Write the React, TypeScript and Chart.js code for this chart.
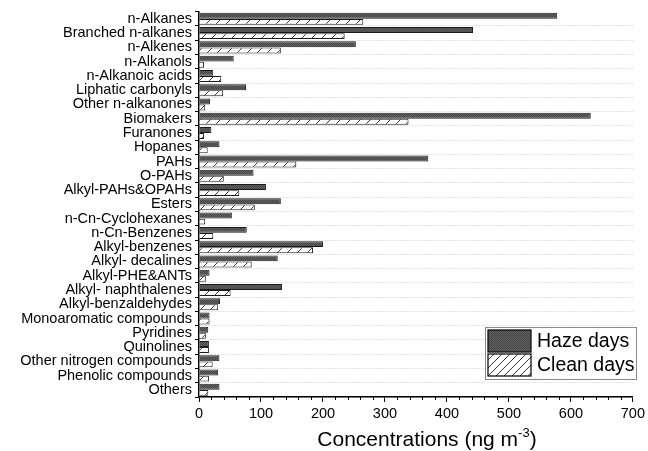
import React, { useEffect, useRef } from 'react';
import { Chart, registerables } from 'chart.js';

Chart.register(...registerables);

const categories = [
  'n-Alkanes', 'Branched n-alkanes', 'n-Alkenes', 'n-Alkanols', 'n-Alkanoic acids',
  'Liphatic carbonyls', 'Other n-alkanones', 'Biomakers', 'Furanones', 'Hopanes',
  'PAHs', 'O-PAHs', 'Alkyl-PAHs&OPAHs', 'Esters', 'n-Cn-Cyclohexanes',
  'n-Cn-Benzenes', 'Alkyl-benzenes', 'Alkyl- decalines', 'Alkyl-PHE&ANTs',
  'Alkyl- naphthalenes', 'Alkyl-benzaldehydes', 'Monoaromatic compounds',
  'Pyridines', 'Quinolines', 'Other nitrogen compounds', 'Phenolic compounds', 'Others',
];

const hazeDays = [
  578, 442, 253, 56, 23, 76, 18, 632, 20, 33, 370, 88, 108, 132, 53, 77, 200, 127,
  17, 134, 34, 17, 15, 16, 33, 31, 33,
];

const cleanDays = [
  265, 235, 132, 8, 36, 39, 10, 338, 8, 14, 157, 40, 65, 90, 10, 23, 184, 85,
  11, 51, 31, 17, 11, 16, 22, 16, 15,
];

const seriesNames = ['Haze days', 'Clean days'];
const xMin = 0;
const xMax = 700;
const xMajorStep = 100;
const xMinorStep = 20;
const xTitleMain = 'Concentrations (ng m';
const xTitleSup = '-3';
const xTitleEnd = ')';

const FONT = "'Liberation Sans', Arial, Helvetica, sans-serif";

function makeHazePattern(ctx: CanvasRenderingContext2D) {
  const c = document.createElement('canvas');
  c.width = 2;
  c.height = 2;
  const g = c.getContext('2d')!;
  g.fillStyle = '#606060';
  g.fillRect(0, 0, 2, 2);
  g.fillStyle = '#474747';
  g.fillRect(0, 0, 1, 1);
  g.fillRect(1, 1, 1, 1);
  return ctx.createPattern(c, 'repeat')!;
}

function makeHatchPattern(ctx: CanvasRenderingContext2D, s: number) {
  const c = document.createElement('canvas');
  c.width = s;
  c.height = s;
  const g = c.getContext('2d')!;
  g.fillStyle = '#ffffff';
  g.fillRect(0, 0, s, s);
  g.strokeStyle = '#222';
  g.lineWidth = 0.9;
  g.beginPath();
  g.moveTo(0, s);
  g.lineTo(s, 0);
  g.moveTo(-1, 1);
  g.lineTo(1, -1);
  g.moveTo(s - 1, s + 1);
  g.lineTo(s + 1, s - 1);
  g.stroke();
  return ctx.createPattern(c, 'repeat')!;
}

export default function App() {
  const ref = useRef<HTMLCanvasElement | null>(null);

  useEffect(() => {
    const canvas = ref.current!;
    const ctx0 = canvas.getContext('2d')!;
    const haze = makeHazePattern(ctx0);
    const hatch = makeHatchPattern(ctx0, 10);
    const hatchLegend = makeHatchPattern(ctx0, 8);

    const extras = {
      id: 'extras',
      afterDraw(chart: any) {
        const ctx = chart.ctx as CanvasRenderingContext2D;
        const xs = chart.scales.x;
        const area = chart.chartArea;
        ctx.save();
        // minor ticks
        ctx.strokeStyle = '#000';
        ctx.lineWidth = 1;
        ctx.beginPath();
        for (let v = xMin + xMinorStep; v < xMax; v += xMinorStep) {
          if (v % xMajorStep === 0) continue;
          const px = Math.round(xs.getPixelForValue(v)) + 0.5;
          ctx.moveTo(px, area.bottom);
          ctx.lineTo(px, area.bottom + 3);
        }
        ctx.stroke();

        // x title with superscript
        const mainFont = `21px ${FONT}`;
        const supFont = `13px ${FONT}`;
        ctx.fillStyle = '#000';
        ctx.textBaseline = 'alphabetic';
        ctx.font = mainFont;
        const w1 = ctx.measureText(xTitleMain).width;
        const w3 = ctx.measureText(xTitleEnd).width;
        ctx.font = supFont;
        const w2 = ctx.measureText(xTitleSup).width;
        const total = w1 + w2 + w3;
        const cx = 427;
        let x = cx - total / 2;
        const baseY = 446;
        ctx.font = mainFont;
        ctx.textAlign = 'left';
        ctx.fillText(xTitleMain, x, baseY);
        x += w1;
        ctx.font = supFont;
        ctx.fillText(xTitleSup, x, baseY - 9);
        x += w2;
        ctx.font = mainFont;
        ctx.fillText(xTitleEnd, x, baseY);

        // legend
        const lx = 485.5, ly = 327.5, lw = 151, lh = 52;
        ctx.fillStyle = '#fff';
        ctx.fillRect(lx, ly, lw, lh);
        ctx.strokeStyle = '#8a8a8a';
        ctx.lineWidth = 1;
        ctx.strokeRect(lx, ly, lw, lh);
        const fills = [haze, hatchLegend];
        for (let i = 0; i < 2; i++) {
          const sy = 330 + i * 24;
          ctx.fillStyle = fills[i];
          ctx.fillRect(488, sy, 43, 22);
          ctx.strokeStyle = '#111';
          ctx.lineWidth = 1.3;
          ctx.strokeRect(488, sy, 43, 22);
          ctx.fillStyle = '#000';
          ctx.font = `19.5px ${FONT}`;
          ctx.textBaseline = 'middle';
          ctx.fillText(seriesNames[i], 537, sy + 12);
        }
        ctx.restore();
      },
    };

    const chart = new Chart(canvas, {
      type: 'bar',
      data: {
        labels: categories,
        datasets: [
          {
            label: seriesNames[0],
            data: hazeDays,
            backgroundColor: haze,
            borderColor: '#1a1a1a',
            borderWidth: 1,
            categoryPercentage: 0.85,
            barPercentage: 0.98,
          },
          {
            label: seriesNames[1],
            data: cleanDays,
            backgroundColor: hatch,
            borderColor: '#1a1a1a',
            borderWidth: 1,
            categoryPercentage: 0.85,
            barPercentage: 0.98,
          },
        ],
      },
      options: {
        indexAxis: 'y',
        responsive: false,
        animation: false,
        layout: { padding: { top: 11, right: 15, left: 0, bottom: 0 } },
        plugins: {
          legend: { display: false },
          tooltip: { enabled: false },
          title: { display: false },
        },
        scales: {
          x: {
            type: 'linear',
            min: xMin,
            max: xMax,
            afterFit: (s: any) => { s.height = 54; },
            ticks: {
              stepSize: xMajorStep,
              color: '#000',
              font: { family: FONT, size: 14.5 },
              padding: 3,
            },
            grid: {
              drawOnChartArea: false,
              color: '#000',
              tickColor: '#000',
              tickLength: 5,
              tickWidth: 1,
            },
            border: { display: true, color: '#000', width: 1.5 },
          },
          y: {
            type: 'category',
            afterFit: (s: any) => { s.width = 199; },
            ticks: {
              color: '#000',
              font: { family: FONT, size: 14.5 },
              padding: 3,
              autoSkip: false,
            },
            grid: {
              offset: true,
              color: (c: any) => (c.index === 0 || c.index === categories.length ? 'rgba(0,0,0,0)' : '#c4c4c4'),
              lineWidth: 1,
              tickColor: '#000',
              tickLength: 4,
              tickWidth: 1,
            },
            border: { display: true, color: '#000', width: 1.5, dash: [1, 2] },
          },
        },
      },
      plugins: [extras],
    });

    return () => chart.destroy();
  }, []);

  return (
    <div style={{ position: 'absolute', left: 0, top: 0, width: 648, height: 451, background: '#fff' }}>
      <canvas ref={ref} width={648} height={451} style={{ display: 'block' }} />
    </div>
  );
}
